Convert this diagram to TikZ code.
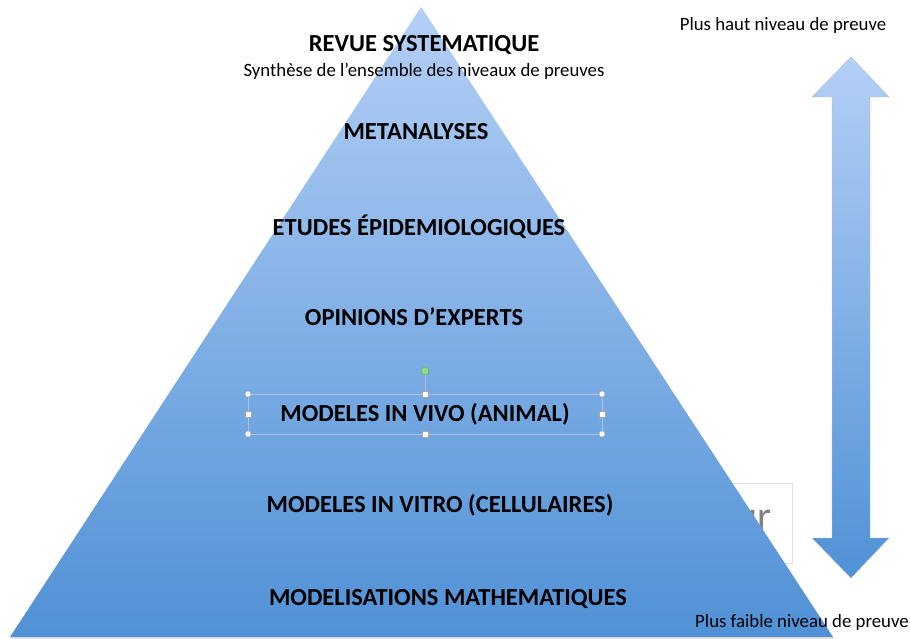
\documentclass[tikz,border=0pt]{standalone}
\usepackage{fontspec}
\setmainfont{Carlito}
\definecolor{pyrtop}{RGB}{180,207,246}
\definecolor{pyrbot}{RGB}{80,145,214}
\definecolor{selline}{RGB}{175,195,222}
\definecolor{rotgreen}{RGB}{150,215,140}
\begin{document}
\begin{tikzpicture}[x=1pt,y=-1pt,
    level/.style={font=\bfseries\fontsize{24.5}{27}\selectfont},
    note/.style={font=\fontsize{18.8}{21}\selectfont},
    knob/.style={circle, draw=gray!70, fill=white, inner sep=0pt, minimum size=6pt},
    tab/.style={rectangle, draw=gray!70, fill=white, inner sep=0pt, minimum size=6pt}]
    \useasboundingbox (0,0) rectangle (910,639);
    % hidden box behind the pyramid
    \draw[gray!25, fill=white] (690,483) rectangle (792,563);
    \node[gray, anchor=east, font=\fontsize{40}{44}\selectfont] (hidden) at (775,520) {ur};
    % pyramid
    \fill[gray!20] (11,639) -- (422,8) -- (834,639) -- cycle;
    \shade[top color=pyrtop, bottom color=pyrbot] (10,637) -- (421,7) -- (833,637) -- cycle;
    % double arrow
    \shade[top color=pyrtop, bottom color=pyrbot, draw=pyrtop!80!gray]
        (851,57) -- (889,97) -- (870,97) -- (870,538) -- (889,538) -- (851,578)
        -- (812,538) -- (832,538) -- (832,97) -- (812,97) -- cycle;
    % selection frame
    \draw[selline] (248,394) rectangle (602,434);
    \draw[selline] (425,371) -- (425,394);
    \node[circle, draw=gray!60!green, fill=rotgreen, inner sep=0pt, minimum size=8pt] (rot) at (425,371) {};
    \foreach \x/\y in {248/394,602/394,248/434,602/434} {
        \node[knob] at (\x,\y) {};
    }
    \foreach \x/\y in {425/394,425/434,248/414,602/414} {
        \node[tab] at (\x,\y) {};
    }
    % labels
    \node[level] (revue) at (424,45) {REVUE SYSTEMATIQUE};
    \node[note] (synth) at (424,71) {Synthèse de l’ensemble des niveaux de preuves};
    \node[level] (meta) at (416,132) {METANALYSES};
    \node[level] (epid) at (419,227) {ETUDES ÉPIDEMIOLOGIQUES};
    \node[level] (expert) at (414,317) {OPINIONS D’EXPERTS};
    \node[level] (vivo) at (425,414) {MODELES IN VIVO (ANIMAL)};
    \node[level] (vitro) at (440,505) {MODELES IN VITRO (CELLULAIRES)};
    \node[level] (math) at (448,599) {MODELISATIONS MATHEMATIQUES};
    \node[note] (haut) at (783,25) {Plus haut niveau de preuve};
    \node[note] (faible) at (802,622) {Plus faible niveau de preuve};
\end{tikzpicture}
\end{document}
